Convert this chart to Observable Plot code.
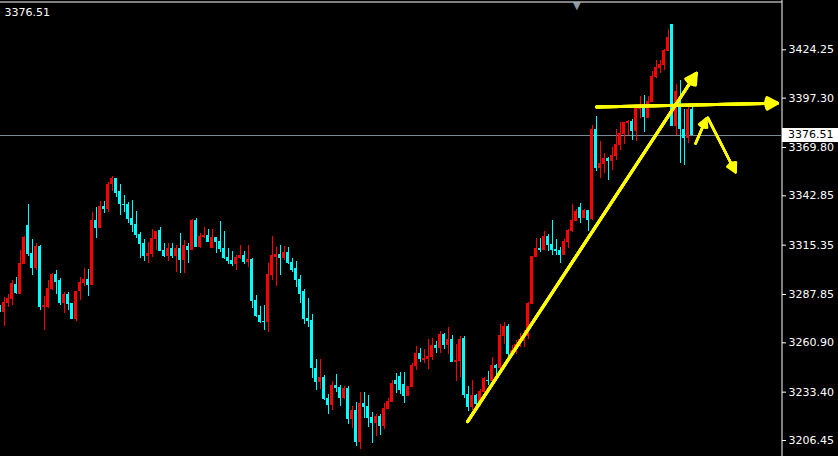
<!DOCTYPE html>
<html><head><meta charset="utf-8">
<script src="https://cdn.jsdelivr.net/npm/d3@7"></script>
<script src="https://cdn.jsdelivr.net/npm/@observablehq/plot@0.6"></script>
<style>html,body{margin:0;padding:0;background:#000;overflow:hidden}</style>
</head><body><div id="chart"></div>
<script>
// Bar index of the first candle (partially visible at the left edge)
const firstIndex = -1;
const open = [3281.1,3278.0,3283.0,3285.2,3293.4,3288.0,3304.7,3326.3,3310.7,3302.3,3314.6,3280.6,3280.7,3290.6,3299.0,3295.6,3282.8,3287.8,3282.8,3273.9,3289.5,3294.0,3296.2,3292.8,3329.1,3324.6,3336.9,3335.2,3349.2,3352.5,3345.3,3338.0,3338.0,3330.2,3326.9,3321.3,3316.3,3309.0,3310.1,3318.5,3323.5,3312.4,3309.0,3313.5,3309.0,3313.5,3306.8,3314.6,3312.4,3329.1,3314.0,3319.6,3320.7,3313.5,3319.6,3317.4,3313.5,3308.5,3306.8,3304.6,3307.9,3309.6,3305.7,3307.3,3284.5,3276.1,3272.8,3272.2,3298.4,3308.5,3310.1,3307.9,3311.2,3305.7,3302.3,3296.2,3289.5,3274.4,3273.3,3246.6,3238.8,3241.6,3229.8,3225.9,3237.1,3236.0,3229.8,3235.4,3218.1,3223.2,3205.3,3227.1,3225.4,3219.3,3215.9,3219.8,3214.2,3223.7,3227.6,3239.9,3242.1,3237.7,3231.0,3236.0,3247.7,3254.9,3251.0,3251.6,3252.7,3259.4,3257.7,3265.5,3259.4,3262.7,3249.9,3250.5,3263.3,3232.1,3224.8,3231.5,3226.5,3233.2,3239.9,3239.3,3248.2,3246.6,3264.4,3270.0,3254.4,3256.6,3258.8,3261.6,3264.4,3282.3,3308.5,3313.5,3312.4,3320.2,3315.7,3312.9,3312.4,3309.6,3316.8,3323.0,3328.5,3336.3,3330.2,3334.7,3329.6,3379.8,3358.1,3360.3,3363.6,3362.0,3364.8,3370.9,3377.0,3383.2,3384.3,3378.7,3391.0,3392.1,3385.9,3394.9,3408.8,3413.8,3415.5,3423.3,3438.4,3381.5,3395.4,3379.8,3374.8,3391.0];
const high = [3281.7,3286.3,3287.8,3295.6,3297.3,3312.4,3320.2,3338.0,3318.5,3316.3,3315.1,3286.7,3295.6,3299.3,3301.2,3296.7,3288.9,3288.9,3283.0,3289.7,3297.3,3302.3,3301.8,3333.5,3336.3,3339.7,3339.7,3350.3,3353.6,3352.7,3349.2,3343.0,3339.1,3340.2,3334.1,3322.4,3318.5,3316.8,3324.1,3323.2,3325.2,3316.3,3316.3,3316.3,3315.1,3321.8,3317.9,3316.3,3329.6,3330.2,3321.8,3325.2,3324.1,3324.1,3319.8,3328.5,3323.0,3313.5,3311.8,3309.6,3315.1,3311.8,3315.1,3307.9,3287.3,3281.1,3281.7,3305.1,3320.2,3314.0,3315.1,3314.6,3314.0,3307.9,3306.2,3298.4,3290.6,3285.6,3276.7,3251.6,3251.6,3242.7,3232.1,3239.3,3243.2,3237.3,3236.5,3236.5,3225.4,3227.6,3233.2,3233.2,3231.5,3222.0,3220.9,3220.9,3227.1,3229.8,3239.9,3243.8,3244.3,3244.3,3236.7,3249.4,3258.8,3257.7,3257.2,3262.7,3263.3,3261.6,3267.2,3266.1,3269.4,3265.0,3260.0,3264.4,3264.4,3236.5,3239.9,3232.1,3234.9,3241.6,3244.9,3252.7,3248.8,3271.1,3272.2,3271.1,3259.4,3262.2,3266.1,3267.8,3283.4,3309.2,3319.0,3319.0,3323.0,3321.3,3329.1,3318.5,3314.0,3318.5,3324.1,3338.0,3335.2,3338.6,3335.2,3334.9,3382.0,3387.1,3373.1,3366.4,3364.2,3369.8,3379.8,3383.7,3383.9,3384.8,3385.4,3393.7,3398.2,3398.8,3398.2,3412.2,3418.3,3418.3,3424.4,3435.6,3438.6,3404.9,3407.1,3391.0,3392.1,3392.6];
const low = [3277.8,3270.2,3280.4,3281.9,3287.8,3287.8,3304.4,3309.0,3298.4,3301.2,3278.9,3267.8,3280.2,3290.3,3287.7,3281.7,3277.2,3278.9,3273.7,3272.8,3284.5,3292.3,3286.7,3292.6,3319.0,3324.4,3333.0,3333.5,3345.3,3341.9,3331.9,3333.5,3327.4,3322.4,3319.0,3307.9,3306.2,3305.1,3308.5,3312.4,3311.6,3308.5,3306.2,3307.9,3300.1,3299.5,3299.5,3305.1,3312.2,3313.8,3313.5,3319.0,3316.6,3313.3,3310.7,3311.2,3307.3,3304.6,3303.4,3301.2,3307.3,3304.6,3302.9,3280.0,3275.0,3271.7,3267.8,3266.6,3295.6,3292.3,3298.4,3306.8,3304.6,3300.1,3291.7,3282.8,3271.1,3269.4,3241.0,3234.3,3234.9,3228.7,3220.9,3223.2,3233.2,3225.4,3229.3,3215.4,3213.1,3203.1,3201.4,3218.7,3213.7,3204.8,3208.7,3209.2,3212.6,3223.5,3227.4,3232.6,3232.1,3227.1,3230.8,3235.8,3245.4,3249.9,3249.4,3246.0,3251.0,3254.9,3254.9,3257.2,3254.4,3249.7,3239.3,3241.6,3229.8,3222.6,3223.2,3224.8,3225.4,3233.0,3237.1,3239.1,3241.6,3246.4,3260.0,3253.3,3253.3,3254.4,3258.3,3258.3,3262.7,3282.1,3308.3,3311.2,3312.2,3311.8,3309.6,3309.6,3305.1,3309.4,3313.5,3322.4,3328.3,3327.4,3330.0,3323.0,3329.1,3356.4,3352.5,3355.3,3351.4,3357.0,3362.5,3368.1,3371.5,3376.5,3373.7,3373.1,3385.9,3378.1,3385.7,3394.7,3408.2,3411.0,3412.7,3423.1,3381.3,3376.7,3360.9,3359.7,3372.0,3376.3];
const close = [3278.0,3283.4,3285.6,3294.0,3288.4,3305.1,3319.6,3310.1,3302.3,3314.6,3280.6,3281.3,3291.2,3299.0,3294.5,3282.8,3287.8,3282.3,3273.9,3289.5,3294.5,3296.2,3292.8,3329.1,3324.6,3336.9,3335.2,3349.2,3352.5,3344.1,3338.0,3337.6,3329.6,3326.3,3320.7,3315.7,3309.0,3310.7,3319.0,3323.0,3311.8,3309.0,3313.5,3309.0,3313.5,3306.8,3315.1,3312.4,3329.1,3314.0,3320.2,3320.7,3316.8,3319.6,3316.8,3312.9,3307.9,3306.2,3304.6,3308.5,3309.6,3305.7,3307.3,3283.9,3275.6,3272.2,3272.2,3299.0,3309.6,3310.1,3307.9,3311.2,3305.1,3301.2,3295.6,3287.8,3273.9,3272.8,3246.6,3238.8,3241.6,3229.3,3225.9,3237.1,3235.4,3229.8,3235.4,3218.1,3223.2,3205.3,3227.1,3224.8,3218.7,3215.9,3219.8,3214.2,3224.3,3228.2,3238.2,3237.7,3234.3,3231.0,3236.5,3248.2,3254.9,3251.6,3252.1,3253.3,3259.4,3257.7,3265.5,3259.4,3262.7,3249.9,3251.0,3262.7,3231.5,3224.8,3231.5,3226.5,3233.8,3241.0,3239.3,3248.2,3246.6,3265.0,3270.0,3254.4,3256.6,3260.0,3262.7,3264.4,3282.8,3309.0,3313.5,3312.4,3320.2,3315.1,3312.4,3311.8,3309.6,3317.4,3323.5,3329.1,3334.1,3330.2,3334.7,3329.1,3379.8,3358.1,3360.9,3363.6,3362.0,3365.3,3371.5,3377.6,3383.7,3384.3,3378.7,3391.5,3392.1,3386.5,3395.4,3409.4,3414.4,3416.1,3423.9,3431.1,3381.5,3401.0,3379.8,3374.8,3391.0,3376.51];

// Price-axis tick labels
const yTicks = [3424.25, 3397.30, 3369.80, 3342.85, 3315.35, 3287.85, 3260.90, 3233.40, 3206.45];

// Hand-drawn yellow annotations (bar index, price)
const bigArrows = [
  {x1: 115.9, y1: 3217.0, x2: 173.1, y2: 3411.2},
  {x1: 148.1, y1: 3392.4, x2: 193.4, y2: 3394.5}
];
const smallArrows = [
  {x1: 172.9, y1: 3372.0, x2: 175.55, y2: 3385.8},
  {x1: 175.95, y1: 3386.3, x2: 182.9, y2: 3356.0}
];
// Period-separator marker at the top
const markerBar = [143.2];

const lastPrice = close[close.length - 1];
const candles = close.map((c, k) => ({i: k + firstIndex, o: open[k], h: high[k], l: low[k], c}));
const col = d => d.c >= d.o ? "#ff0000" : "#00ffff";

const W = 838, H = 456, MR = 57;
const headAngles = [58, 42, 26, 10];
const arrowMarks = (data, sw, hl) => headAngles.map(a => Plot.arrow(data, {
  x1: "x1", y1: "y1", x2: "x2", y2: "y2",
  stroke: "#ffff00", strokeWidth: sw, headLength: hl, headAngle: a
}));

const plot = Plot.plot({
  width: W, height: H,
  marginTop: 0, marginBottom: 0, marginLeft: 0, marginRight: MR,
  style: {background: "#000", color: "#fff", fontFamily: "'DejaVu Sans', sans-serif", fontSize: "11px"},
  x: {domain: [-0.875, 194.375], axis: null},
  y: {domain: [3197.53, 3451.73], axis: "right", ticks: yTicks, tickFormat: d => d.toFixed(2), tickSize: 4, tickPadding: 3, label: null},
  color: {type: "identity"},
  marks: [
    Plot.ruleY([lastPrice], {stroke: "#7b8a99", shapeRendering: "crispEdges"}),
    Plot.ruleX(candles, {x: "i", y1: "l", y2: "h", stroke: col, clip: true, shapeRendering: "crispEdges"}),
    Plot.rect(candles, {x1: d => d.i - 0.375, x2: d => d.i + 0.375, y1: "o", y2: "c", fill: col,
      insetTop: -0.3, insetBottom: -0.3, clip: true, shapeRendering: "crispEdges"}),
    ...arrowMarks(bigArrows, 3, 6),
    ...arrowMarks(smallArrows, 2.5, 6),
    Plot.text(markerBar, {x: d => d, frameAnchor: "top", text: () => "\u25BC", fill: "#8c9aa8", fontSize: 10, lineAnchor: "top", dy: 1}),
    Plot.frame({anchor: "top", stroke: "#fff", dy: 1.5}),
    Plot.frame({anchor: "right", stroke: "#fff", dx: 0.5}),
    Plot.text([lastPrice], {frameAnchor: "top-left", text: d => d.toFixed(2), dx: 4, dy: 8, fill: "#fff", textAnchor: "start", lineAnchor: "top"})
  ]
});

// Current-price tag on the price axis
const yPix = plot.scale("y").apply(lastPrice);
const svg = d3.select(plot);
const x0 = W - MR + 1;
svg.append("rect").attr("x", x0).attr("y", Math.round(yPix) - 7).attr("width", W - x0).attr("height", 14).attr("fill", "#fff");
svg.append("text").attr("x", x0 + 6).attr("y", yPix).attr("dy", "0.32em")
  .attr("text-anchor", "start").attr("fill", "#000").text(lastPrice.toFixed(2));

document.getElementById("chart").appendChild(plot);
</script>
</body></html>
